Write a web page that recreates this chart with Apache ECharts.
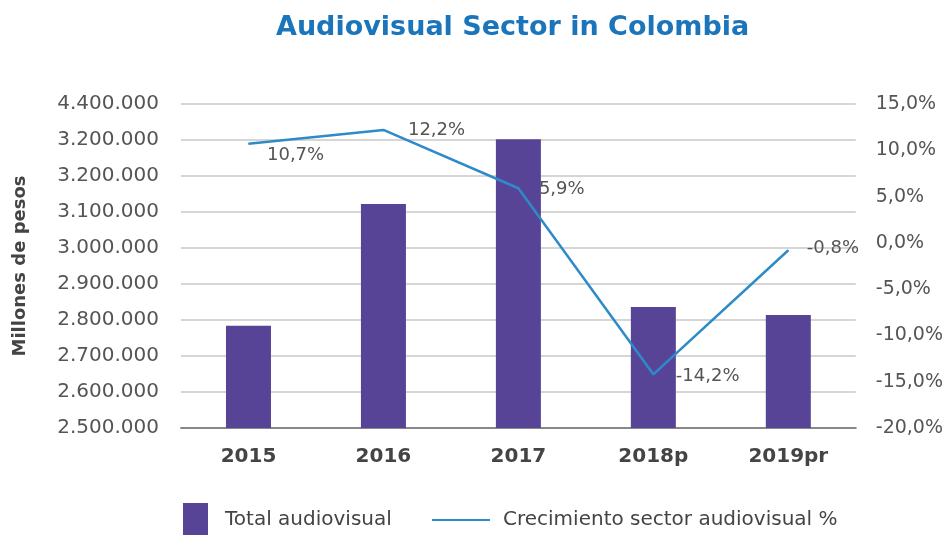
<!DOCTYPE html>
<html>
<head>
<meta charset="utf-8">
<script src="https://cdn.jsdelivr.net/npm/echarts@6/dist/echarts.min.js"></script>
<style>html,body{margin:0;padding:0;background:#fff;}#c{width:946px;height:535px;}</style>
</head>
<body>
<div id="c"></div>
<script>
const categories = ['2015', '2016', '2017', '2018p', '2019pr'];
const totalAudiovisual = [2784000, 3122000, 3302000, 2836000, 2814000];
const crecimiento = [10.7, 12.2, 5.9, -14.2, -0.8];
const leftTickLabels = ['2.500.000', '2.600.000', '2.700.000', '2.800.000', '2.900.000', '3.000.000', '3.100.000', '3.200.000', '3.200.000', '4.400.000'];
const rightTickLabels = ['-20,0%', '-15,0%', '-10,0%', '-5,0%', '0,0%', '5,0%', '10,0%', '15,0%'];

const FONT = 'DejaVu Sans';
const chart = echarts.init(document.getElementById('c'));
const labelOffsets = [[-4, 12], [2, 0], [-2, 1], [0, 2], [-4, -2]];
chart.setOption({
  animation: false,
  textStyle: { fontFamily: FONT },
  title: {
    text: 'Audiovisual Sector in Colombia',
    left: 276, top: 14, padding: 0,
    textStyle: { fontFamily: FONT, fontSize: 27, fontWeight: 'bold', color: '#1b75bb' }
  },
  grid: { left: 181, right: 90, top: 104, bottom: 107 },
  legend: [
    {
      data: [{ name: 'Total audiovisual', icon: 'rect' }], left: 183, top: 503, padding: 0,
      itemWidth: 25, itemHeight: 34, itemGap: 10,
      textStyle: { fontFamily: FONT, fontSize: 20, color: '#444', padding: [0, 0, 0, 12] }
    },
    {
      data: [{ name: 'Crecimiento sector audiovisual %', icon: 'rect' }], left: 432, top: 510, padding: 0,
      itemWidth: 58, itemHeight: 2,
      textStyle: { fontFamily: FONT, fontSize: 20, color: '#444', padding: [0, 0, 0, 8] }
    }
  ],
  xAxis: {
    type: 'category', data: categories,
    axisLine: { onZero: false, lineStyle: { color: '#888', width: 2 } },
    axisTick: { show: false },
    axisLabel: { fontFamily: FONT, fontSize: 20, fontWeight: 'bold', color: '#444', margin: 19 }
  },
  yAxis: [
    {
      type: 'value', min: 2500000, max: 3400000, interval: 100000,
      name: 'Millones de pesos', nameLocation: 'middle', nameGap: 152, nameRotate: 90,
      nameTextStyle: { fontFamily: FONT, fontSize: 18, fontWeight: 'bold', color: '#444' },
      axisLine: { show: false }, axisTick: { show: false },
      axisLabel: {
        fontFamily: FONT, fontSize: 20, color: '#555', margin: 22,
        formatter: v => leftTickLabels[Math.round((v - 2500000) / 100000)]
      },
      splitLine: { lineStyle: { color: '#c8c8c8', width: 1.5 } }
    },
    {
      type: 'value', min: -20, max: 15, interval: 5,
      axisLine: { show: false }, axisTick: { show: false },
      axisLabel: {
        fontFamily: FONT, fontSize: 19, color: '#555', margin: 20,
        formatter: v => rightTickLabels[Math.round((v + 20) / 5)]
      },
      splitLine: { show: false }
    }
  ],
  series: [
    {
      name: 'Total audiovisual', type: 'bar', data: totalAudiovisual,
      barWidth: 45, itemStyle: { color: '#574496' }
    },
    {
      name: 'Crecimiento sector audiovisual %', type: 'line', yAxisIndex: 1,
      data: crecimiento.map((v, i) => ({
        value: v,
        label: { show: true, offset: labelOffsets[i] }
      })),
      symbol: 'circle', symbolSize: 1, showSymbol: true,
      lineStyle: { color: '#2e8bc9', width: 2.5 },
      itemStyle: { color: '#2e8bc9' },
      label: {
        show: true, position: 'right', distance: 22,
        fontFamily: FONT, fontSize: 18, color: '#555',
        formatter: p => p.value.toFixed(1).replace('.', ',') + '%'
      }
    }
  ]
});
</script>
</body>
</html>
